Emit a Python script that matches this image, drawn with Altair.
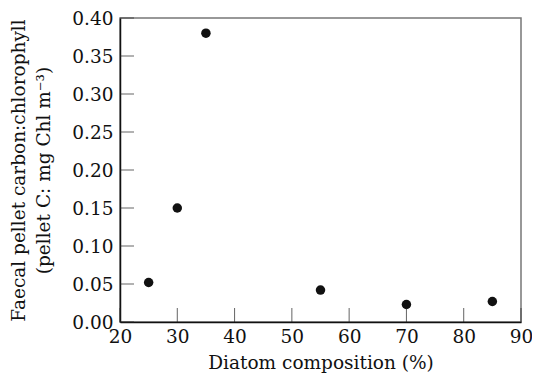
import altair as alt
import pandas as pd

diatom = [25, 30, 35, 55, 70, 85]
ratio = [0.052, 0.150, 0.380, 0.042, 0.023, 0.027]
x_ticks = [20, 30, 40, 50, 60, 70, 80, 90]
y_ticks = [0.0, 0.05, 0.10, 0.15, 0.20, 0.25, 0.30, 0.35, 0.40]

W, H = 401, 304
TICK = 14
FONT = "DejaVu Serif"

pts = pd.DataFrame({"diatom": diatom, "ratio": ratio})
xt = pd.DataFrame({"diatom": x_ticks})
yt = pd.DataFrame({"ratio": y_ticks})

xscale = alt.Scale(domain=[20, 90], nice=False, zero=False)
yscale = alt.Scale(domain=[0, 0.40], nice=False)
xaxis = alt.Axis(values=x_ticks, format="d", ticks=False, labelFlush=False,
                 title="Diatom composition (%)", labelPadding=5, titlePadding=8)
yaxis = alt.Axis(values=y_ticks, format=".2f", ticks=False, labelFlush=False,
                 title=["Faecal pellet carbon:chlorophyll", "(pellet C: mg Chl m⁻³)"],
                 labelPadding=7, titlePadding=18, titleLineHeight=25)

points = alt.Chart(pts).mark_circle(size=90, color="#111111", opacity=1).encode(
    x=alt.X("diatom:Q", scale=xscale, axis=xaxis),
    y=alt.Y("ratio:Q", scale=yscale, axis=yaxis),
)

xtick_layer = alt.Chart(xt).mark_tick(orient="vertical", size=TICK, thickness=1,
                                      color="#222222").encode(
    x=alt.X("diatom:Q", scale=xscale, axis=xaxis),
    y=alt.value(H - TICK / 2),
)
ytick_layer = alt.Chart(yt).mark_tick(orient="horizontal", size=TICK, thickness=1,
                                      color="#222222").encode(
    y=alt.Y("ratio:Q", scale=yscale, axis=yaxis),
    x=alt.value(TICK / 2),
)

chart = alt.layer(points, xtick_layer, ytick_layer).properties(
    width=W, height=H,
    autosize=alt.AutoSizeParams(type="none"),
    padding={"left": 112, "top": 10, "right": 11, "bottom": 51},
).configure_view(
    stroke="#777777", strokeWidth=1.5
).configure_axis(
    domainColor="#111111", domainWidth=1.5,
    labelFont=FONT, titleFont=FONT, labelFontSize=18.5, titleFontSize=18.5,
    labelColor="#111111", titleColor="#111111", titleFontWeight="normal",
    grid=False,
)

chart.save("out.html", embed_options={"renderer": "svg", "actions": False})
